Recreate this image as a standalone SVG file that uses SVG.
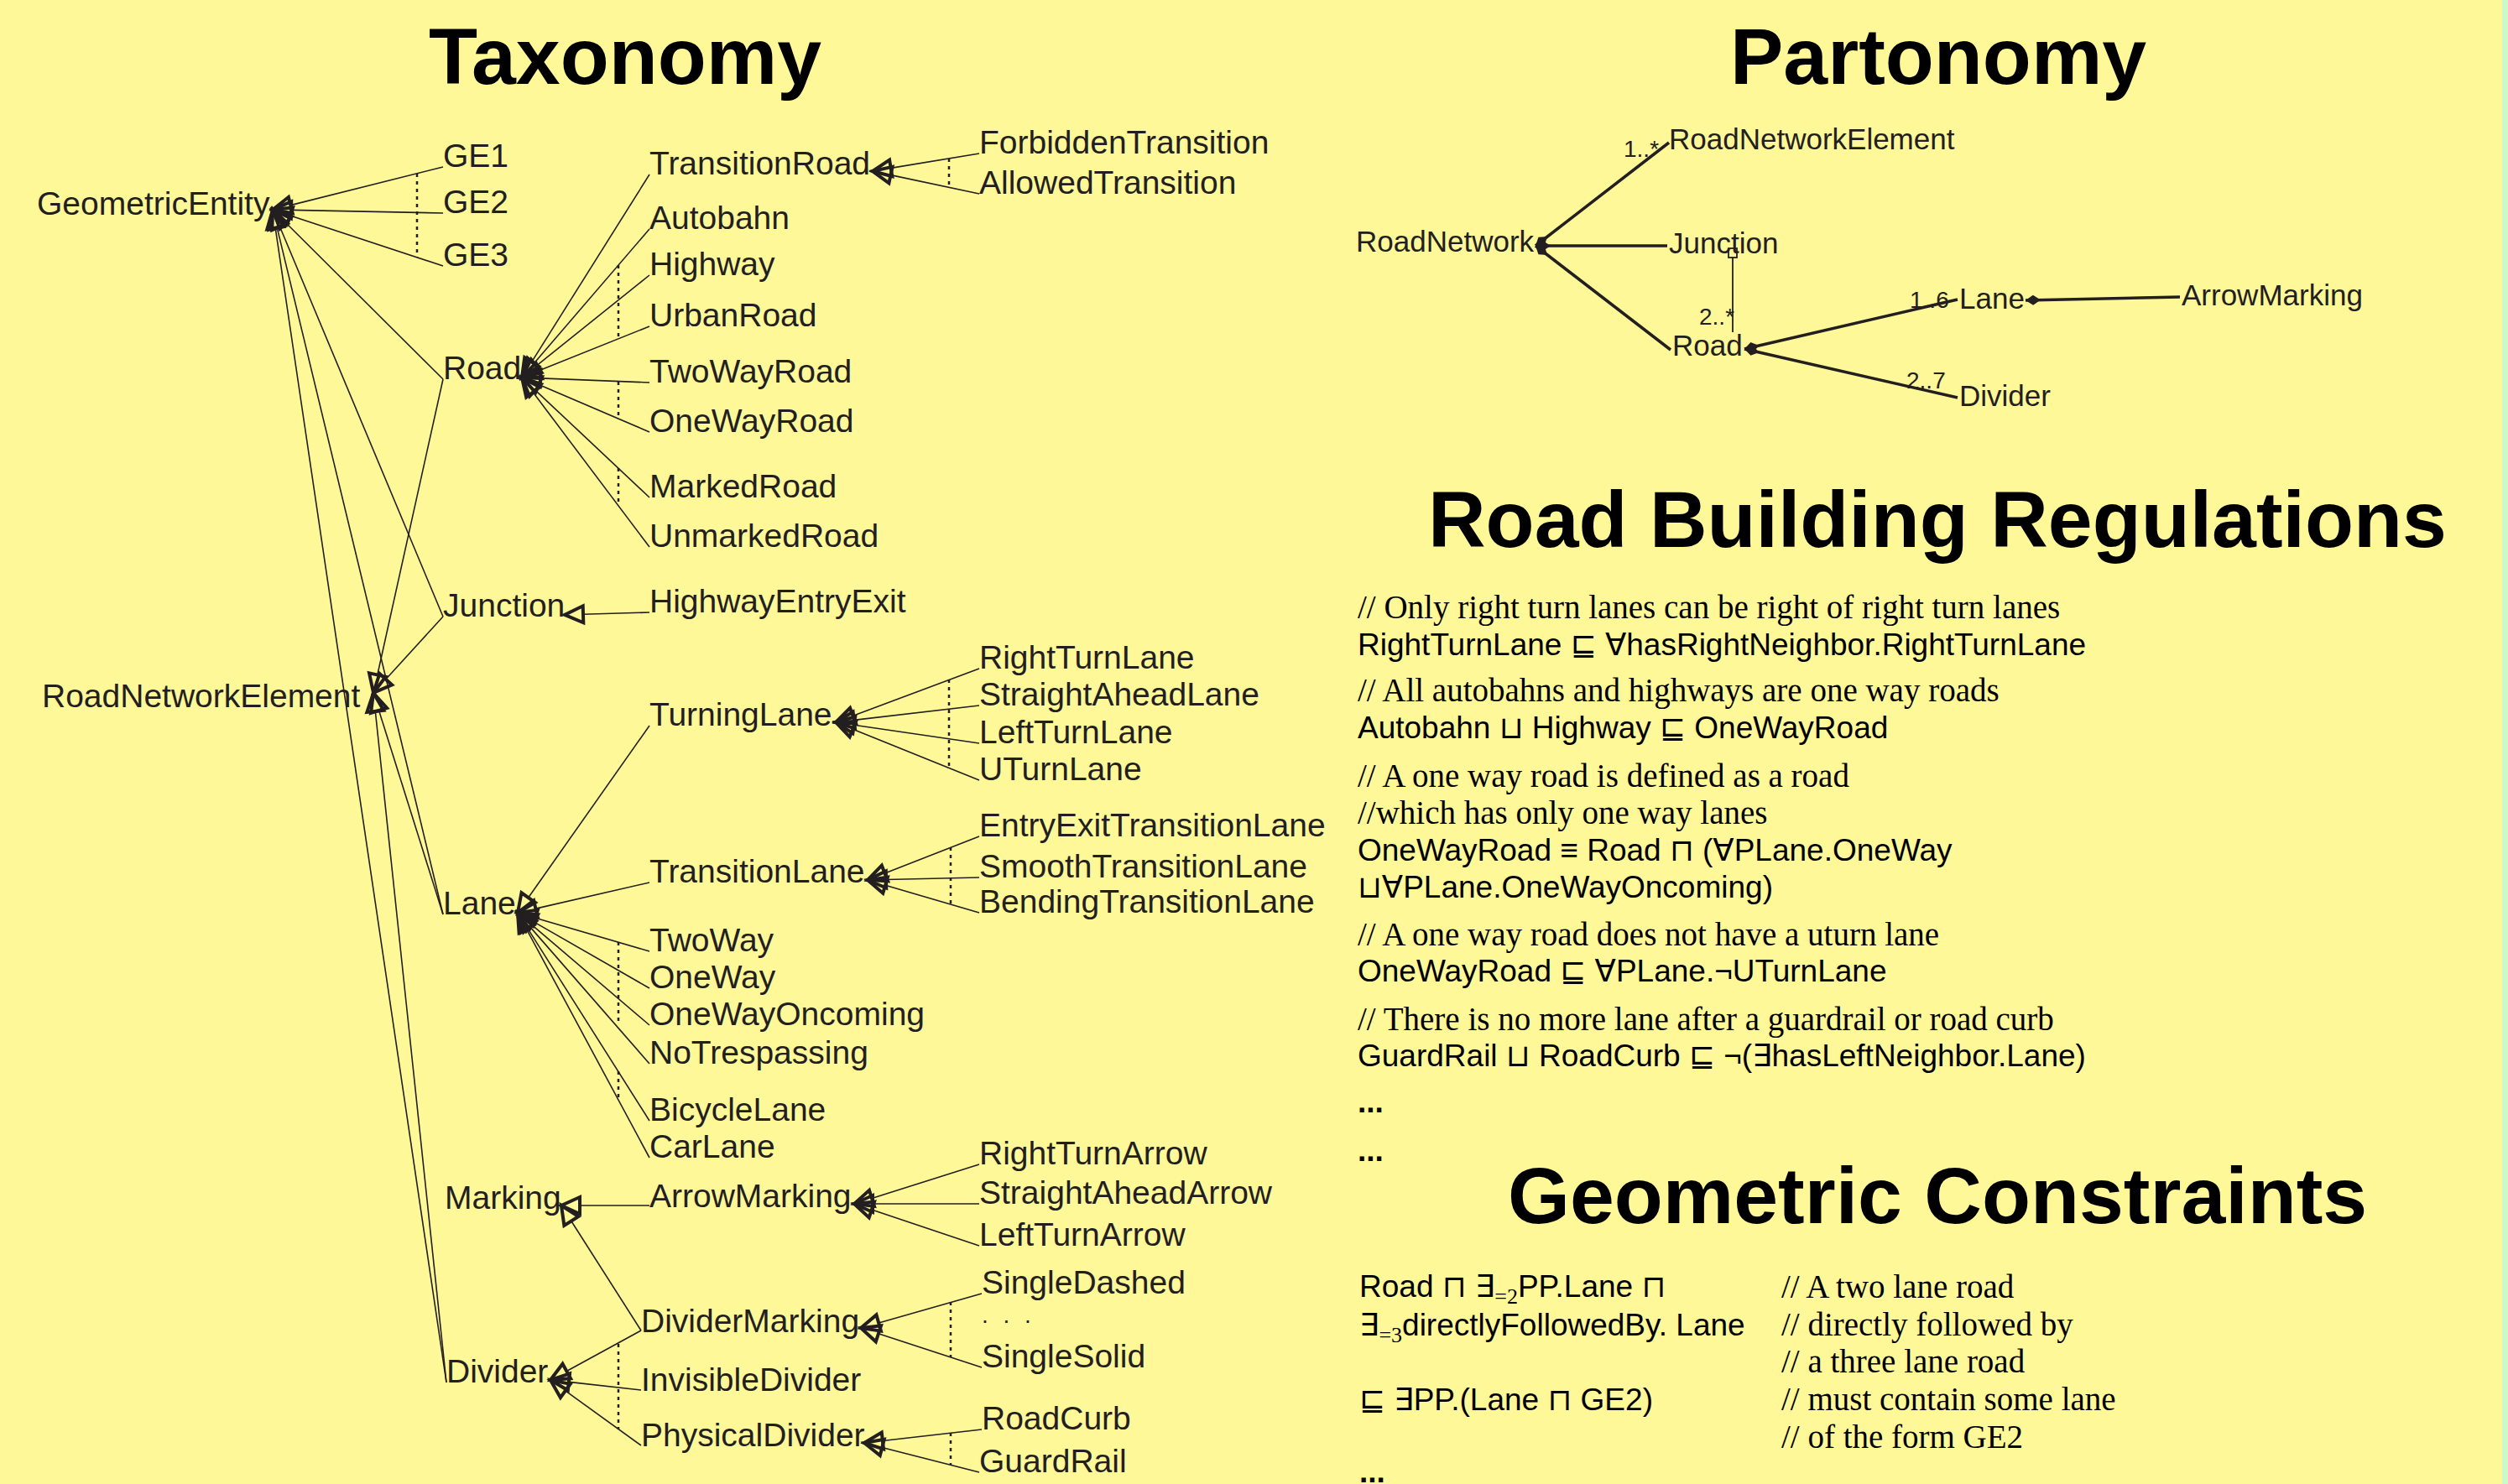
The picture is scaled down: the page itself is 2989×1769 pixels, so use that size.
<svg xmlns="http://www.w3.org/2000/svg" width="2989" height="1769" viewBox="0 0 2989 1769">
<defs>
<style>
.lbl{font-family:"Liberation Sans",Arial,sans-serif;font-size:39px;fill:#231f20}
.plbl{font-family:"Liberation Sans",Arial,sans-serif;font-size:35px;fill:#231f20}
.mult{font-family:"Liberation Sans",Arial,sans-serif;font-size:28px;fill:#231f20}
.title{font-family:"Liberation Sans",Arial,sans-serif;font-size:95px;font-weight:bold;fill:#000}
.cmt{font-family:"Liberation Serif","Times New Roman",serif;font-size:39px;fill:#000}
.fml{font-family:"Liberation Sans","DejaVu Sans",sans-serif;font-size:37px;fill:#000}
.sub{font-family:"Liberation Serif",serif;font-size:26px}
.gen line{stroke:#231f20;stroke-width:1.6;marker-end:url(#gen)}
.dot{stroke:#231f20;stroke-width:2.5;stroke-dasharray:4 5;fill:none}
.part{stroke:#231f20;stroke-width:3.5;fill:none}
</style>
<marker id="gen" viewBox="-4 -14 30 28" markerWidth="30" markerHeight="28" refX="0" refY="0" orient="auto" markerUnits="userSpaceOnUse" overflow="visible">
<path d="M22,0 L0,-10 L0,10 Z" fill="none" stroke="#231f20" stroke-width="4" stroke-linejoin="miter"/>
</marker>
<marker id="dia" viewBox="-2 -8 22 16" markerWidth="22" markerHeight="16" refX="0" refY="0" orient="auto" markerUnits="userSpaceOnUse" overflow="visible">
<path d="M0,0 L9,-6 L18,0 L9,6 Z" fill="#231f20"/>
</marker>
</defs>
<rect x="0" y="0" width="2989" height="1769" fill="#fff899"/>
<rect x="2982" y="0" width="7" height="1769" fill="#ccf8cc"/>

<g id="titles">
<text class="title" x="511" y="100">Taxonomy</text>
<text class="title" x="2062" y="100">Partonomy</text>
<text class="title" x="1702" y="652">Road Building Regulations</text>
<text class="title" x="1797" y="1458">Geometric Constraints</text>
</g>

<g id="connectors">
<g class="gen">
<!-- GeometricEntity -->
<line x1="528" y1="199" x2="346.3" y2="244.6"/>
<line x1="528" y1="254" x2="347" y2="250.4"/>
<line x1="528" y1="317" x2="345.9" y2="256.9"/>
<line x1="528" y1="452" x2="340.6" y2="265.5"/>
<line x1="528" y1="735" x2="333.5" y2="270.3"/>
<line x1="528" y1="1090" x2="330.2" y2="271.4"/>
<line x1="532" y1="1648" x2="328.2" y2="271.8"/>
<!-- RoadNetworkElement -->
<line x1="528" y1="452" x2="449.8" y2="804.5"/>
<line x1="528" y1="735" x2="459.8" y2="809.7"/>
<line x1="528" y1="1090" x2="451.6" y2="847"/>
<line x1="532" y1="1648" x2="447.3" y2="847.9"/>
<!-- Road -->
<line x1="774" y1="208" x2="633.7" y2="431.4"/>
<line x1="774" y1="273" x2="636.3" y2="433.3"/>
<line x1="774" y1="328" x2="639.2" y2="436.2"/>
<line x1="774" y1="389" x2="642.4" y2="441.8"/>
<line x1="774" y1="456" x2="644" y2="450.9"/>
<line x1="774" y1="515" x2="642.2" y2="458.6"/>
<line x1="774" y1="593" x2="638" y2="465.1"/>
<line x1="774" y1="652" x2="635.2" y2="467.6"/>
<!-- Junction -->
<line x1="774" y1="730" x2="695" y2="732.3"/>
<!-- Lane -->
<line x1="774" y1="865" x2="629.7" y2="1070"/>
<line x1="774" y1="1052" x2="638.4" y2="1083.1"/>
<line x1="774" y1="1134" x2="638.1" y2="1094.2"/>
<line x1="774" y1="1178" x2="636.1" y2="1098.9"/>
<line x1="774" y1="1222" x2="633.7" y2="1102.3"/>
<line x1="774" y1="1268" x2="631.5" y2="1104.6"/>
<line x1="774" y1="1336" x2="628.8" y2="1106.6"/>
<line x1="774" y1="1380" x2="627.4" y2="1107.4"/>
<!-- Marking -->
<line x1="774" y1="1437" x2="691" y2="1437"/>
<line x1="764" y1="1586" x2="680.8" y2="1455.5"/>
<!-- Divider -->
<line x1="764" y1="1586" x2="675.3" y2="1634.5"/>
<line x1="764" y1="1657" x2="677.9" y2="1647.4"/>
<line x1="764" y1="1723" x2="673.8" y2="1657.9"/>
<!-- TransitionRoad -->
<line x1="1167" y1="183" x2="1061.7" y2="200.4"/>
<line x1="1167" y1="231" x2="1061.5" y2="208.6"/>
<!-- TurningLane -->
<line x1="1167" y1="797" x2="1016.6" y2="853.3"/>
<line x1="1167" y1="841" x2="1017.8" y2="858.4"/>
<line x1="1167" y1="886" x2="1017.8" y2="864.2"/>
<line x1="1167" y1="930" x2="1016.4" y2="869.2"/>
<!-- TransitionLane -->
<line x1="1167" y1="997" x2="1054.5" y2="1041"/>
<line x1="1167" y1="1046" x2="1056" y2="1048.5"/>
<line x1="1167" y1="1088" x2="1055.1" y2="1055.2"/>
<!-- ArrowMarking -->
<line x1="1167" y1="1388" x2="1039" y2="1428.4"/>
<line x1="1167" y1="1435" x2="1040" y2="1435"/>
<line x1="1167" y1="1485" x2="1038.9" y2="1442"/>
<!-- DividerMarking -->
<line x1="1170" y1="1542" x2="1047.2" y2="1577"/>
<line x1="1170" y1="1630" x2="1046.9" y2="1589.8"/>
<!-- PhysicalDivider -->
<line x1="1170" y1="1704" x2="1051.9" y2="1717.5"/>
<line x1="1167" y1="1755" x2="1051.3" y2="1725.4"/>
</g>
<g id="disjoint">
<line class="dot" x1="497" y1="207" x2="497" y2="307"/>
<line class="dot" x1="737" y1="316" x2="737" y2="404"/>
<line class="dot" x1="737" y1="455" x2="737" y2="499"/>
<line class="dot" x1="737" y1="558" x2="737" y2="603"/>
<line class="dot" x1="1131" y1="189" x2="1131" y2="223"/>
<line class="dot" x1="737" y1="1123" x2="737" y2="1220"/>
<line class="dot" x1="737" y1="1277" x2="737" y2="1311"/>
<line class="dot" x1="1131" y1="810" x2="1131" y2="915"/>
<line class="dot" x1="1133" y1="1010" x2="1133" y2="1078"/>
<line class="dot" x1="1133" y1="1552" x2="1133" y2="1618"/>
<line class="dot" x1="1133" y1="1708" x2="1133" y2="1746"/>
<line class="dot" x1="737" y1="1602" x2="737" y2="1704"/>
</g>
<g id="partonomy-links">
<line class="part" x1="1830" y1="293" x2="1989" y2="170" marker-start="url(#dia)"/>
<line class="part" x1="1830" y1="293" x2="1987" y2="293" marker-start="url(#dia)"/>
<line class="part" x1="1830" y1="293" x2="1991" y2="417" marker-start="url(#dia)"/>
<line x1="2065" y1="307" x2="2065" y2="396" stroke="#231f20" stroke-width="1.8"/>
<rect x="2060" y="296" width="10" height="11" fill="none" stroke="#231f20" stroke-width="1.8"/>
<line class="part" x1="2079" y1="416" x2="2333" y2="357" marker-start="url(#dia)"/>
<line class="part" x1="2079" y1="416" x2="2333" y2="474" marker-start="url(#dia)"/>
<line class="part" x1="2414" y1="358" x2="2598" y2="354" marker-start="url(#dia)"/>
<text class="mult" x="1935" y="187">1..*</text>
<text class="mult" x="2025" y="387">2..*</text>
<text class="mult" x="2276" y="367">1..6</text>
<text class="mult" x="2272" y="463">2..7</text>
</g>
</g>

<g id="taxonomy-nodes">
<g id="n-GeometricEntity"><text class="lbl" x="44" y="256">GeometricEntity</text></g>
<g id="n-RoadNetworkElement"><text class="lbl" x="50" y="843">RoadNetworkElement</text></g>
<g id="n-GE1"><text class="lbl" x="528" y="199">GE1</text></g>
<g id="n-GE2"><text class="lbl" x="528" y="254">GE2</text></g>
<g id="n-GE3"><text class="lbl" x="528" y="317">GE3</text></g>
<g id="n-Road"><text class="lbl" x="528" y="452">Road</text></g>
<g id="n-Junction"><text class="lbl" x="528" y="735">Junction</text></g>
<g id="n-Lane"><text class="lbl" x="528" y="1090">Lane</text></g>
<g id="n-Marking"><text class="lbl" x="530" y="1441">Marking</text></g>
<g id="n-Divider"><text class="lbl" x="532" y="1648">Divider</text></g>
<g id="n-TransitionRoad"><text class="lbl" x="774" y="208">TransitionRoad</text></g>
<g id="n-Autobahn"><text class="lbl" x="774" y="273">Autobahn</text></g>
<g id="n-Highway"><text class="lbl" x="774" y="328">Highway</text></g>
<g id="n-UrbanRoad"><text class="lbl" x="774" y="389">UrbanRoad</text></g>
<g id="n-TwoWayRoad"><text class="lbl" x="774" y="456">TwoWayRoad</text></g>
<g id="n-OneWayRoad"><text class="lbl" x="774" y="515">OneWayRoad</text></g>
<g id="n-MarkedRoad"><text class="lbl" x="774" y="593">MarkedRoad</text></g>
<g id="n-UnmarkedRoad"><text class="lbl" x="774" y="652">UnmarkedRoad</text></g>
<g id="n-HighwayEntryExit"><text class="lbl" x="774" y="730">HighwayEntryExit</text></g>
<g id="n-TurningLane"><text class="lbl" x="774" y="865">TurningLane</text></g>
<g id="n-TransitionLane"><text class="lbl" x="774" y="1052">TransitionLane</text></g>
<g id="n-TwoWay"><text class="lbl" x="774" y="1134">TwoWay</text></g>
<g id="n-OneWay"><text class="lbl" x="774" y="1178">OneWay</text></g>
<g id="n-OneWayOncoming"><text class="lbl" x="774" y="1222">OneWayOncoming</text></g>
<g id="n-NoTrespassing"><text class="lbl" x="774" y="1268">NoTrespassing</text></g>
<g id="n-BicycleLane"><text class="lbl" x="774" y="1336">BicycleLane</text></g>
<g id="n-CarLane"><text class="lbl" x="774" y="1380">CarLane</text></g>
<g id="n-ArrowMarking"><text class="lbl" x="774" y="1439">ArrowMarking</text></g>
<g id="n-DividerMarking"><text class="lbl" x="764" y="1588">DividerMarking</text></g>
<g id="n-InvisibleDivider"><text class="lbl" x="764" y="1658">InvisibleDivider</text></g>
<g id="n-PhysicalDivider"><text class="lbl" x="764" y="1724">PhysicalDivider</text></g>
<g id="n-ForbiddenTransition"><text class="lbl" x="1167" y="183">ForbiddenTransition</text></g>
<g id="n-AllowedTransition"><text class="lbl" x="1167" y="231">AllowedTransition</text></g>
<g id="n-RightTurnLane"><text class="lbl" x="1167" y="797">RightTurnLane</text></g>
<g id="n-StraightAheadLane"><text class="lbl" x="1167" y="841">StraightAheadLane</text></g>
<g id="n-LeftTurnLane"><text class="lbl" x="1167" y="886">LeftTurnLane</text></g>
<g id="n-UTurnLane"><text class="lbl" x="1167" y="930">UTurnLane</text></g>
<g id="n-EntryExitTransitionLane"><text class="lbl" x="1167" y="997">EntryExitTransitionLane</text></g>
<g id="n-SmoothTransitionLane"><text class="lbl" x="1167" y="1046">SmoothTransitionLane</text></g>
<g id="n-BendingTransitionLane"><text class="lbl" x="1167" y="1088">BendingTransitionLane</text></g>
<g id="n-RightTurnArrow"><text class="lbl" x="1167" y="1388">RightTurnArrow</text></g>
<g id="n-StraightAheadArrow"><text class="lbl" x="1167" y="1435">StraightAheadArrow</text></g>
<g id="n-LeftTurnArrow"><text class="lbl" x="1167" y="1485">LeftTurnArrow</text></g>
<g id="n-SingleDashed"><text class="lbl" x="1170" y="1542">SingleDashed</text></g>
<g id="n-ellipsis"><text class="lbl" x="1170" y="1577" style="font-size:28px;word-spacing:10px">. . .</text></g>
<g id="n-SingleSolid"><text class="lbl" x="1170" y="1630">SingleSolid</text></g>
<g id="n-RoadCurb"><text class="lbl" x="1170" y="1704">RoadCurb</text></g>
<g id="n-GuardRail"><text class="lbl" x="1167" y="1755">GuardRail</text></g>
</g>

<g id="partonomy-nodes">
<g id="p-RoadNetwork"><text class="plbl" x="1616" y="300">RoadNetwork</text></g>
<g id="p-RoadNetworkElement"><text class="plbl" x="1989" y="178">RoadNetworkElement</text></g>
<g id="p-Junction"><text class="plbl" x="1989" y="302">Junction</text></g>
<g id="p-Road"><text class="plbl" x="1993" y="424">Road</text></g>
<g id="p-Lane"><text class="plbl" x="2335" y="368">Lane</text></g>
<g id="p-ArrowMarking"><text class="plbl" x="2600" y="364">ArrowMarking</text></g>
<g id="p-Divider"><text class="plbl" x="2335" y="484">Divider</text></g>
</g>

<g id="regulations">
<text class="cmt" x="1618" y="737">// Only right turn lanes can be right of right turn lanes</text>
<text class="fml" x="1618" y="781">RightTurnLane ⊑ ∀hasRightNeighbor.RightTurnLane</text>
<text class="cmt" x="1618" y="836">// All autobahns and highways are one way roads</text>
<text class="fml" x="1618" y="880">Autobahn ⊔ Highway ⊑ OneWayRoad</text>
<text class="cmt" x="1618" y="938">// A one way road is defined as a road</text>
<text class="cmt" x="1618" y="982">//which has only one way lanes</text>
<text class="fml" x="1618" y="1026">OneWayRoad ≡ Road ⊓ (∀PLane.OneWay</text>
<text class="fml" x="1618" y="1070">⊔∀PLane.OneWayOncoming)</text>
<text class="cmt" x="1618" y="1127">// A one way road does not have a uturn lane</text>
<text class="fml" x="1618" y="1170">OneWayRoad ⊑ ∀PLane.¬UTurnLane</text>
<text class="cmt" x="1618" y="1228">// There is no more lane after a guardrail or road curb</text>
<text class="fml" x="1618" y="1271">GuardRail ⊔ RoadCurb ⊑ ¬(∃hasLeftNeighbor.Lane)</text>
<text class="fml" x="1618" y="1326" font-weight="bold">...</text>
<text class="fml" x="1618" y="1384" font-weight="bold">...</text>
</g>

<g id="constraints">
<text class="fml" x="1620" y="1546">Road ⊓ ∃<tspan class="sub" dy="8">=2</tspan><tspan dy="-8">PP.Lane ⊓</tspan></text>
<text class="fml" x="1620" y="1592">∃<tspan class="sub" dy="8">=3</tspan><tspan dy="-8">directlyFollowedBy. Lane</tspan></text>
<text class="fml" x="1620" y="1681">⊑ ∃PP.(Lane ⊓ GE2)</text>
<text class="fml" x="1620" y="1767" font-weight="bold">...</text>
<text class="cmt" x="2123" y="1547">// A two lane road</text>
<text class="cmt" x="2123" y="1592">// directly followed by</text>
<text class="cmt" x="2123" y="1636">// a three lane road</text>
<text class="cmt" x="2123" y="1681">// must contain some lane</text>
<text class="cmt" x="2123" y="1726">// of the form GE2</text>
</g>
</svg>
